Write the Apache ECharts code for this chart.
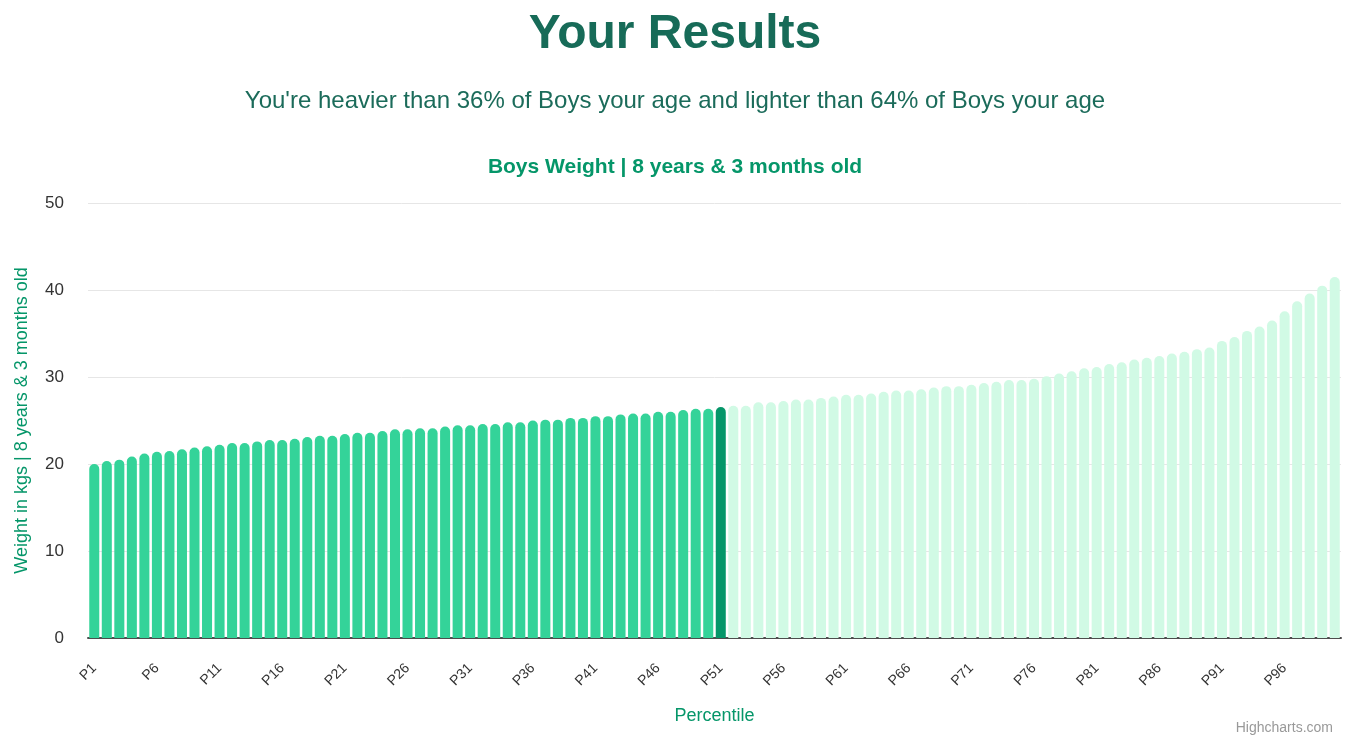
<!DOCTYPE html>
<html>
<head>
<meta charset="utf-8">
<script src="https://cdn.jsdelivr.net/npm/echarts@6/dist/echarts.min.js"></script>
<style>
html,body{margin:0;padding:0;background:#fff;}
#chart{width:1350px;height:742px;}
</style>
</head>
<body>
<div id="chart"></div>
<script>
const mainTitle = 'Your Results';
const subTitle = "You're heavier than 36% of Boys your age and lighter than 64% of Boys your age";
const chartTitle = 'Boys Weight | 8 years & 3 months old';
const yAxisTitle = 'Weight in kgs | 8 years & 3 months old';
const xAxisTitle = 'Percentile';

const categories = [
  'P1','P2','P3','P4','P5','P6','P7','P8','P9','P10',
  'P11','P12','P13','P14','P15','P16','P17','P18','P19','P20',
  'P21','P22','P23','P24','P25','P26','P27','P28','P29','P30',
  'P31','P32','P33','P34','P35','P36','P37','P38','P39','P40',
  'P41','P42','P43','P44','P45','P46','P47','P48','P49','P50',
  'P51','P52','P53','P54','P55','P56','P57','P58','P59','P60',
  'P61','P62','P63','P64','P65','P66','P67','P68','P69','P70',
  'P71','P72','P73','P74','P75','P76','P77','P78','P79','P80',
  'P81','P82','P83','P84','P85','P86','P87','P88','P89','P90',
  'P91','P92','P93','P94','P95','P96','P97','P98','P99','P100'
];

const weights = [
  20.0, 20.35, 20.5, 20.85, 21.2, 21.4, 21.5, 21.7, 21.9, 22.05,
  22.2, 22.4, 22.4, 22.6, 22.75, 22.75, 22.9, 23.1, 23.25, 23.25,
  23.45, 23.6, 23.6, 23.8, 24.0, 24.0, 24.1, 24.1, 24.3, 24.45,
  24.45, 24.6, 24.6, 24.8, 24.8, 25.0, 25.1, 25.1, 25.3, 25.3,
  25.5, 25.5, 25.7, 25.8, 25.8, 26.0, 26.0, 26.2, 26.35, 26.35,
  26.55, 26.7, 26.7, 27.1, 27.1, 27.25, 27.4, 27.4, 27.6, 27.75,
  27.95, 27.95, 28.1, 28.3, 28.45, 28.45, 28.6, 28.8, 28.95, 28.95,
  29.1, 29.3, 29.45, 29.65, 29.65, 29.8, 30.1, 30.4, 30.65, 31.0,
  31.15, 31.5, 31.7, 32.0, 32.2, 32.4, 32.7, 32.9, 33.2, 33.4,
  34.15, 34.6, 35.3, 35.8, 36.5, 37.55, 38.7, 39.6, 40.5, 41.5
];

const highlightCategory = 'P51';
const yTicks = [0, 10, 20, 30, 40, 50];

const colorBelow = '#34d399';
const colorCurrent = '#059669';
const colorAbove = '#d1fae5';

const hi = categories.indexOf(highlightCategory);
const barData = weights.map((v, i) => ({
  value: v,
  itemStyle: { color: i < hi ? colorBelow : (i === hi ? colorCurrent : colorAbove) }
}));

const FONT = '"Liberation Sans", Arial, Helvetica, sans-serif';

const chart = echarts.init(document.getElementById('chart'), null, { renderer: 'canvas' });
chart.setOption({
  animation: false,
  backgroundColor: '#ffffff',
  title: [
    { text: mainTitle, left: 'center', top: 6,
      textStyle: { fontFamily: FONT, fontSize: 48, fontWeight: 'bold', color: '#176b58' } },
    { text: subTitle, left: 'center', top: 84,
      textStyle: { fontFamily: FONT, fontSize: 24, fontWeight: 'normal', color: '#1b6b5a' } },
    { text: chartTitle, left: 'center', top: 152,
      textStyle: { fontFamily: FONT, fontSize: 21, fontWeight: 'bold', color: '#059669' } }
  ],
  grid: { left: 88, right: 9, top: 203, bottom: 104, containLabel: false },
  xAxis: {
    type: 'category',
    data: categories,
    name: xAxisTitle,
    nameLocation: 'middle',
    nameGap: 69,
    nameTextStyle: { fontFamily: FONT, fontSize: 18, color: '#059669' },
    axisLine: { show: true, lineStyle: { color: '#4d4d4d', width: 2 } },
    axisTick: { show: false },
    axisLabel: {
      interval: 4, rotate: 45, margin: 28,
      fontFamily: FONT, fontSize: 14, color: '#333333'
    },
    splitLine: { show: false }
  },
  yAxis: {
    type: 'value',
    min: yTicks[0],
    max: yTicks[yTicks.length - 1],
    interval: yTicks[1] - yTicks[0],
    name: yAxisTitle,
    nameLocation: 'middle',
    nameGap: 57,
    nameTextStyle: { fontFamily: FONT, fontSize: 18, color: '#059669' },
    axisLine: { show: false },
    axisTick: { show: false },
    axisLabel: { margin: 24, fontFamily: FONT, fontSize: 17, color: '#333333' },
    splitLine: { show: true, lineStyle: { color: '#e6e6e6', width: 1 } }
  },
  series: [{
    type: 'bar',
    data: barData,
    barCategoryGap: '20%',
    itemStyle: { borderRadius: [5, 5, 0, 0] }
  }],
  graphic: [{
    type: 'text',
    right: 17,
    bottom: 7,
    style: { text: 'Highcharts.com', fontFamily: FONT, fontSize: 14, fill: '#999999' }
  }]
});
</script>
</body>
</html>
